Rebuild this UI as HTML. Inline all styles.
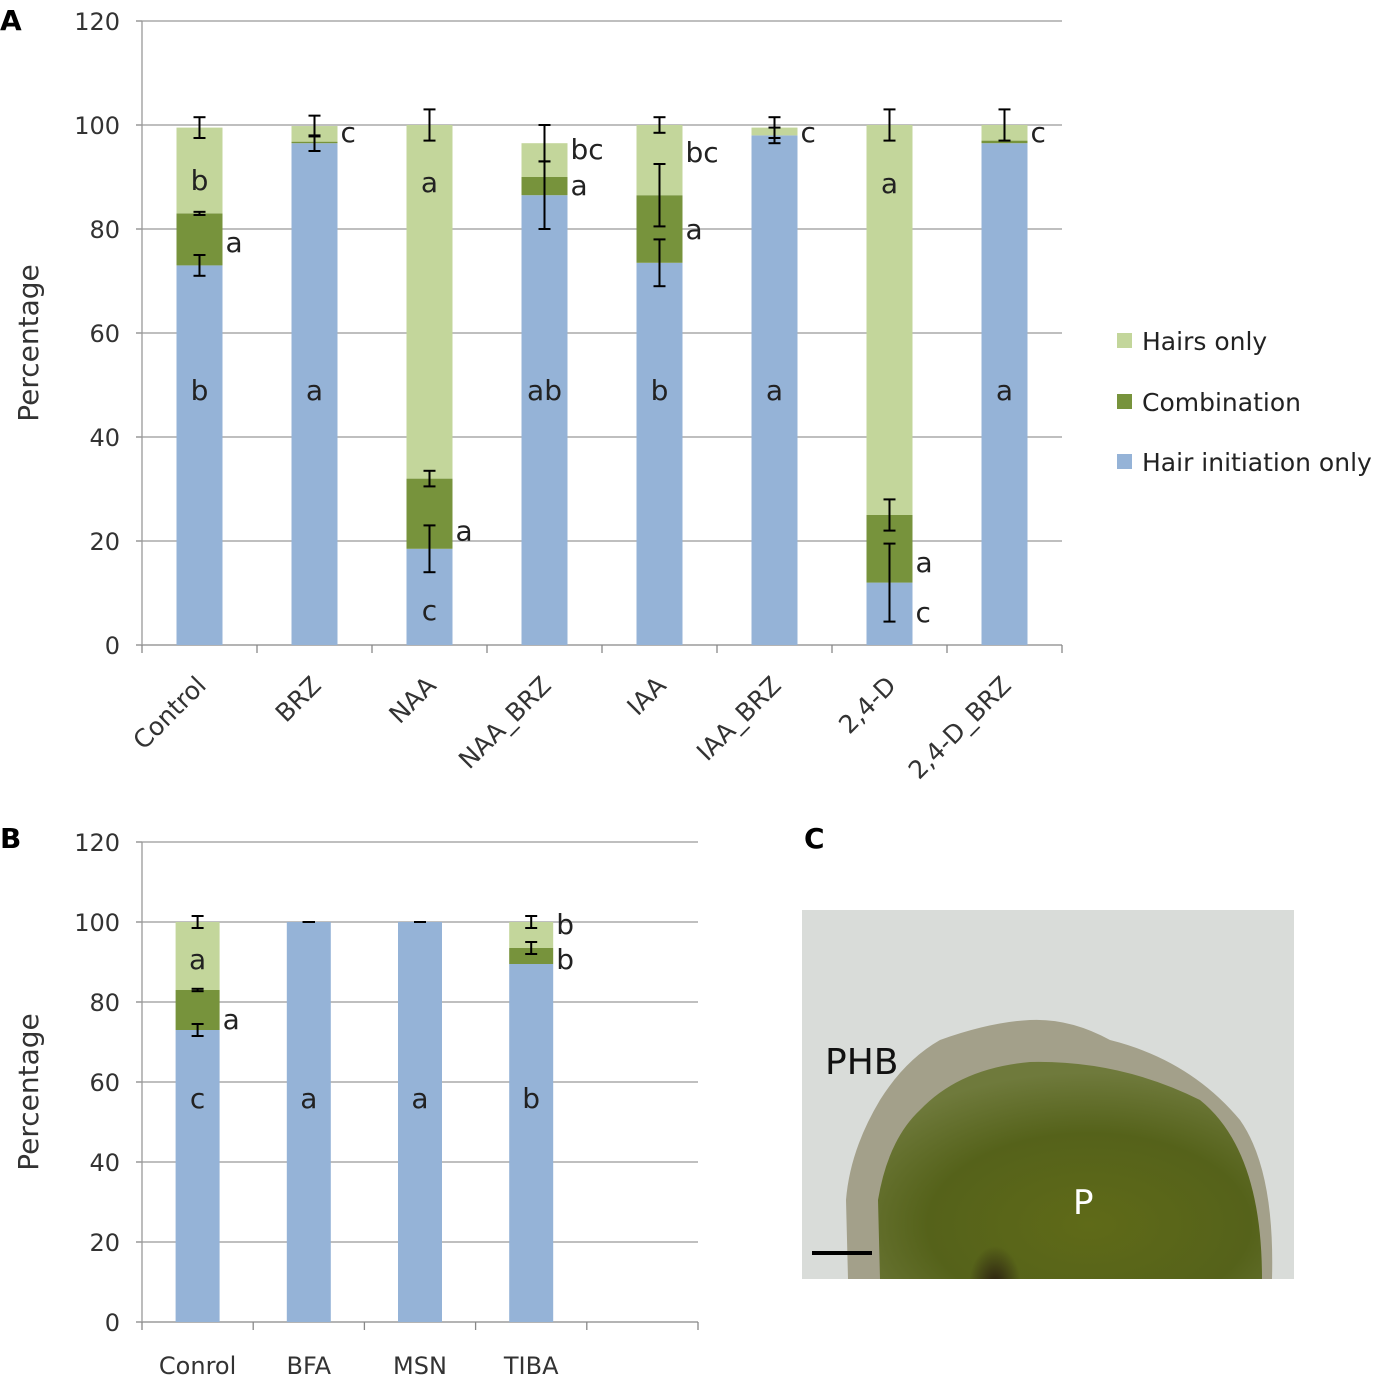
<!DOCTYPE html>
<html><head><meta charset="utf-8"><style>
body{margin:0;background:#fff;width:1400px;height:1381px;overflow:hidden;font-family:"Liberation Sans",sans-serif}
svg text{font-family:"DejaVu Sans","Liberation Sans",sans-serif}
</style></head><body>
<svg id="fig" width="1400" height="1381" viewBox="0 0 1400 1381" xmlns="http://www.w3.org/2000/svg">
<defs>
<radialGradient id="tissue" cx="0.55" cy="0.75" r="0.7">
<stop offset="0" stop-color="#5f6a18"/><stop offset="0.6" stop-color="#55621a"/><stop offset="1" stop-color="#6f7a3c"/>
</radialGradient>
<radialGradient id="dark" cx="0.5" cy="0.7" r="0.5"><stop offset="0" stop-color="#2a1e10"/><stop offset="1" stop-color="#2a1e10" stop-opacity="0"/></radialGradient>
<clipPath id="photoClip"><rect x="802" y="910" width="492" height="369"/></clipPath>
</defs>
<text x="0" y="30" font-size="28" font-weight="bold" fill="#000">A</text>
<text x="0" y="848" font-size="28" font-weight="bold" fill="#000">B</text>
<text x="804" y="848" font-size="28" font-weight="bold" fill="#000">C</text>
<g id="chartA"></g>
<g id="chartB"></g>
<g>
<g><rect x="1117" y="333" width="15" height="15" fill="#c3d69b"/><text x="1142" y="350" font-size="25" fill="#222">Hairs only</text></g>
<g><rect x="1117" y="394" width="15" height="15" fill="#77933c"/><text x="1142" y="411" font-size="25" fill="#222">Combination</text></g>
<g><rect x="1117" y="454" width="15" height="15" fill="#95b3d7"/><text x="1142" y="471" font-size="25" fill="#222">Hair initiation only</text></g>
</g>
<g clip-path="url(#photoClip)">
<rect x="802" y="910" width="492" height="369" fill="#d9dcd9"/>
<path d="M848,1279 L846,1200 Q850,1150 880,1100 Q905,1060 940,1040 Q990,1022 1030,1020 Q1070,1018 1110,1040 Q1190,1060 1240,1120 Q1275,1170 1272,1279 Z" fill="#a3a08a"/>
<path d="M880,1279 L878,1200 Q888,1140 920,1110 Q960,1068 1030,1062 Q1120,1060 1200,1100 Q1262,1150 1262,1279 Z" fill="url(#tissue)"/>
<ellipse cx="995" cy="1270" rx="26" ry="40" fill="url(#dark)"/>
<rect x="812" y="1251" width="60" height="4" fill="#000"/>
<text x="825" y="1074" font-size="36" fill="#111">PHB</text>
<text x="1073" y="1214" font-size="34" fill="#fff">P</text>
</g>
</svg>
<script>
// Chart A data
const catsA = ["Control","BRZ","NAA","NAA_BRZ","IAA","IAA_BRZ","2,4-D","2,4-D_BRZ"];
const initA = [73,96.5,18.5,86.5,73.5,98,12,96.5];
const combA = [10,0.3,13.5,3.5,13,0,13,0.5];
const hairsA = [16.5,3,68,6.5,13.5,1.5,75,3];
const errInitA = [2,1.5,4.5,6.5,4.5,1.5,7.5,0];
const errCombA = [0.3,0,1.5,0,6,0,3,0];
const errTopA = [2,2,3,3.5,1.5,2,3,3];
const labelCatA = [0,0,0,1,1,2,2,2,3,3,3,4,4,4,5,5,6,6,6,7,7];
const labelValA = [89.4,77.5,49,98.7,49,89,22,6.7,95.4,88.5,49,94.8,80,49,98.7,49,88.8,16,6.3,98.7,49];
const labelTxtA = ["b","a","b","c","a","a","a","c","bc","a","ab","bc","a","b","c","a","a","a","c","c","a"];
const labelSideA = ["c","r","c","r","c","c","r","c","r","r","c","r","r","c","r","c","c","r","r","r","c"];
const ticksA = [0,20,40,60,80,100,120];
// Chart B data
const catsB = ["Conrol","BFA","MSN","TIBA",""];
const initB = [73,100,100,89.5,0];
const combB = [10,0,0,4,0];
const hairsB = [17,0,0,6.5,0];
const errInitB = [1.5,0,0,0,0];
const errCombB = [0.3,0,0,1.5,0];
const errTopB = [1.5,0,0,1.5,0];
const labelCatB = [0,0,0,1,2,3,3,3];
const labelValB = [90.75,75.75,56,56,56,99.5,90.75,56];
const labelTxtB = ["a","a","c","a","a","b","b","b"];
const labelSideB = ["c","r","c","c","c","r","r","c"];
const ticksB = [0,20,40,60,80,100,120];

const NS="http://www.w3.org/2000/svg";
function mk(parent,tag,attrs){const e=document.createElementNS(NS,tag);for(const k in attrs)e.setAttribute(k,attrs[k]);parent.appendChild(e);return e;}

function draw(g,o){
  const y=v=>o.y0-(v/120)*(o.y0-o.y120);
  const bw=(o.x1-o.x0)/o.n;
  const cx=i=>o.x0+bw*(i+0.5);
  o.ticks.forEach(t=>{
    const l=mk(g,"line",{x1:o.x0,x2:o.x1,y1:y(t),y2:y(t),stroke:t===0?"#888":"#999","stroke-width":1.3});
    
    
    const tx=mk(g,"text",{x:o.x0-22,y:y(t)+9,"text-anchor":"end","font-size":24,fill:"#333"});
    tx.textContent=t;
    
    
    mk(g,"line",{x1:o.x0-6,x2:o.x0,y1:y(t),y2:y(t),stroke:"#888","stroke-width":1.3});
  });
  mk(g,"line",{x1:o.x0,x2:o.x0,y1:y(0),y2:y(120),stroke:"#999","stroke-width":1.3});
  for(let i=0;i<=o.n;i++) mk(g,"line",{x1:o.x0+bw*i,x2:o.x0+bw*i,y1:y(0),y2:y(0)+8,stroke:"#888","stroke-width":1.3});
  const yt=mk(g,"text",{x:0,y:0,"font-size":28,fill:"#333","text-anchor":"middle",transform:`translate(${o.titleX},${(y(0)+y(120))/2+10}) rotate(-90)`});
  yt.textContent="Percentage";
  
  
  const w=o.barW;
  for(let i=0;i<o.n;i++){
    const a=o.init[i],b=a+o.comb[i],c=b+o.hairs[i];
    if(c<=0)continue;
    const segs=[[0,a,"#95b3d7","bar-hair-initiation"],[a,b,"#77933c","bar-combination"],[b,c,"#c3d69b","bar-hairs-only"]];
    segs.forEach(s=>{ if(s[1]>s[0]){
      const r=mk(g,"rect",{x:cx(i)-w/2,y:y(s[1]),width:w,height:y(s[0])-y(s[1]),fill:s[2]});
      
      
    }});
    [[a,o.eI[i]],[b,o.eC[i]],[c,o.eT[i]]].forEach(e=>{
      if(e[1]<=0 && !(o.flat && e[0]===c))return;
      const g2=mk(g,"g",{stroke:"#000","stroke-width":2});
      
      
      mk(g2,"line",{x1:cx(i),x2:cx(i),y1:y(e[0]+e[1]),y2:y(e[0]-e[1])});
      mk(g2,"line",{x1:cx(i)-6,x2:cx(i)+6,y1:y(e[0]+e[1]),y2:y(e[0]+e[1])});
      mk(g2,"line",{x1:cx(i)-6,x2:cx(i)+6,y1:y(e[0]-e[1]),y2:y(e[0]-e[1])});
    });
  }
  for(let k=0;k<o.lc.length;k++){
    const i=o.lc[k];
    const right=o.ls[k]==="r";
    const t=mk(g,"text",{x:right?cx(i)+w/2+3:cx(i),y:y(o.lv[k])+10,"font-size":28,fill:"#222","text-anchor":right?"start":"middle"});
    t.textContent=o.lt[k];
    
    
  }
  o.cats.forEach((c,i)=>{
    if(!c)return;
    let t;
    if(o.rot) t=mk(g,"text",{x:0,y:0,"font-size":25,fill:"#333","text-anchor":"end",transform:`translate(${cx(i)+8},${y(0)+42}) rotate(-45)`});
    else t=mk(g,"text",{x:cx(i),y:y(0)+52,"font-size":24,fill:"#333","text-anchor":"middle"});
    t.textContent=c;
    
    
  });
}
draw(document.getElementById("chartA"),{x0:142,x1:1062,y0:645,y120:21,n:8,barW:46,titleX:38,cats:catsA,init:initA,comb:combA,hairs:hairsA,eI:errInitA,eC:errCombA,eT:errTopA,lc:labelCatA,lv:labelValA,lt:labelTxtA,ls:labelSideA,ticks:ticksA,rot:true});
draw(document.getElementById("chartB"),{x0:142,x1:698,y0:1322,y120:842,n:5,barW:44,titleX:38,cats:catsB,init:initB,comb:combB,hairs:hairsB,eI:errInitB,eC:errCombB,eT:errTopB,lc:labelCatB,lv:labelValB,lt:labelTxtB,ls:labelSideB,ticks:ticksB,rot:false,flat:true});
</script>
</body></html>
